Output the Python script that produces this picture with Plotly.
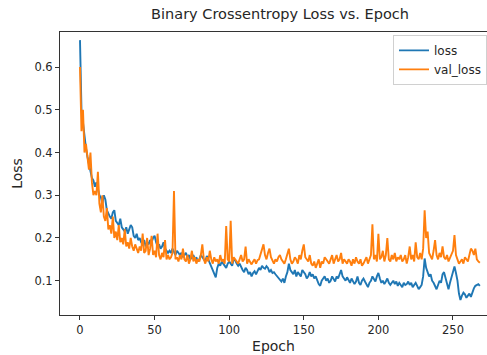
import plotly.graph_objects as go

loss = [
    0.663, 0.50, 0.47, 0.43, 0.41, 0.39, 0.37, 0.36, 0.34, 0.335,
    0.32, 0.33, 0.31, 0.30, 0.295, 0.28, 0.30, 0.29, 0.265, 0.255,
    0.25, 0.245, 0.26, 0.265, 0.24, 0.235, 0.23, 0.245, 0.225, 0.22,
    0.215, 0.225, 0.21, 0.22, 0.23, 0.225, 0.205, 0.20, 0.21, 0.195,
    0.20, 0.19, 0.185, 0.195, 0.18, 0.19, 0.185, 0.195, 0.19, 0.20,
    0.205, 0.19, 0.18, 0.185, 0.175, 0.18, 0.19, 0.175, 0.17, 0.165,
    0.17, 0.165, 0.175, 0.165, 0.16, 0.17, 0.165, 0.16, 0.165, 0.155,
    0.16, 0.165, 0.155, 0.16, 0.15, 0.155, 0.16, 0.15, 0.155, 0.145,
    0.15, 0.16, 0.155, 0.15, 0.145, 0.158, 0.15, 0.14, 0.13, 0.125,
    0.115, 0.108, 0.13, 0.14, 0.135, 0.145, 0.14, 0.135, 0.13, 0.14,
    0.145, 0.14, 0.135, 0.15, 0.148, 0.14, 0.135, 0.14, 0.13, 0.125,
    0.12, 0.13, 0.125, 0.115, 0.12, 0.11, 0.118, 0.122, 0.115, 0.125,
    0.13, 0.125, 0.135, 0.13, 0.128, 0.134, 0.13, 0.12, 0.125, 0.118,
    0.12, 0.115, 0.11, 0.105, 0.10, 0.098, 0.105, 0.095, 0.11, 0.12,
    0.14, 0.125, 0.12, 0.115, 0.125, 0.11, 0.12, 0.115, 0.11, 0.125,
    0.12, 0.115, 0.105, 0.11, 0.12, 0.11, 0.115, 0.105, 0.11, 0.10,
    0.092, 0.088, 0.10, 0.105, 0.11, 0.10, 0.105, 0.095, 0.10, 0.11,
    0.105, 0.098, 0.11, 0.105, 0.115, 0.125, 0.11, 0.105, 0.10, 0.108,
    0.10, 0.095, 0.105, 0.10, 0.092, 0.098, 0.11, 0.095, 0.09, 0.10,
    0.105, 0.098, 0.09, 0.085, 0.095, 0.10, 0.11, 0.105, 0.098, 0.11,
    0.118, 0.105, 0.095, 0.10, 0.092, 0.098, 0.105, 0.095, 0.09, 0.095,
    0.10, 0.092, 0.098, 0.088, 0.095, 0.09, 0.085, 0.095, 0.09, 0.092,
    0.098, 0.09, 0.095, 0.085, 0.09, 0.095, 0.088, 0.08, 0.085, 0.09,
    0.11, 0.152, 0.13, 0.12, 0.11, 0.115, 0.10, 0.095, 0.085, 0.08,
    0.09, 0.10, 0.095, 0.115, 0.12, 0.105, 0.09, 0.08, 0.095, 0.11,
    0.125, 0.133, 0.118, 0.10, 0.07, 0.055, 0.065, 0.072, 0.068, 0.06,
    0.065, 0.07, 0.062, 0.075, 0.082, 0.088, 0.09, 0.092, 0.088,
]

val_loss = [
    0.60, 0.45, 0.50, 0.40, 0.42, 0.38, 0.36, 0.40, 0.33, 0.30,
    0.31, 0.30, 0.355, 0.28, 0.26, 0.30, 0.25, 0.24, 0.27, 0.22,
    0.23, 0.21, 0.25, 0.20, 0.215, 0.195, 0.23, 0.19, 0.20, 0.185,
    0.22, 0.18, 0.19, 0.175, 0.20, 0.18, 0.17, 0.185, 0.175, 0.165,
    0.18, 0.17, 0.21, 0.165, 0.17, 0.20, 0.16, 0.175, 0.205, 0.16,
    0.17, 0.155, 0.21, 0.16, 0.15, 0.165, 0.155, 0.195, 0.15, 0.16,
    0.15, 0.155, 0.165, 0.31, 0.15, 0.155, 0.145, 0.16, 0.15, 0.175,
    0.15, 0.145, 0.16, 0.14, 0.15, 0.17, 0.145, 0.155, 0.14, 0.15,
    0.145, 0.16, 0.185, 0.15, 0.14, 0.155, 0.145, 0.17, 0.15, 0.14,
    0.155, 0.145, 0.15, 0.14, 0.16, 0.145, 0.15, 0.14, 0.228, 0.15,
    0.145, 0.24, 0.14, 0.155, 0.15, 0.145, 0.14, 0.15, 0.16, 0.145,
    0.15, 0.18, 0.14, 0.15, 0.145, 0.138, 0.145, 0.15, 0.14, 0.148,
    0.15, 0.16, 0.17, 0.185, 0.16, 0.15, 0.165, 0.175, 0.155, 0.145,
    0.14, 0.15, 0.145, 0.155, 0.16, 0.15, 0.145, 0.14, 0.15, 0.16,
    0.175, 0.15, 0.14, 0.145, 0.155, 0.15, 0.14, 0.16, 0.15, 0.17,
    0.185, 0.155, 0.15, 0.145, 0.16, 0.14, 0.135, 0.145, 0.13, 0.14,
    0.15, 0.13, 0.145, 0.14, 0.155, 0.15, 0.145, 0.14, 0.15, 0.16,
    0.14, 0.15, 0.16, 0.145, 0.15, 0.165, 0.14, 0.15, 0.145, 0.14,
    0.15, 0.145, 0.135, 0.15, 0.14, 0.155, 0.145, 0.14, 0.15, 0.135,
    0.14, 0.15, 0.155, 0.14, 0.15, 0.16, 0.232, 0.15, 0.16, 0.145,
    0.21, 0.15, 0.155, 0.17, 0.145, 0.16, 0.20, 0.15, 0.145, 0.16,
    0.15, 0.165, 0.145, 0.155, 0.15, 0.16, 0.145, 0.15, 0.16, 0.14,
    0.155, 0.18, 0.15, 0.16, 0.145, 0.19, 0.155, 0.15, 0.165, 0.15,
    0.175, 0.265, 0.20, 0.215, 0.165, 0.155, 0.15, 0.17, 0.195, 0.16,
    0.15, 0.165, 0.155, 0.18, 0.155, 0.15, 0.16, 0.145, 0.155, 0.165,
    0.17, 0.207, 0.16, 0.15, 0.14, 0.145, 0.15, 0.14, 0.155, 0.15,
    0.145, 0.16, 0.175, 0.17, 0.16, 0.175, 0.15, 0.145, 0.142,
]

epochs = list(range(len(loss)))
x_ticks = [0, 50, 100, 150, 200, 250]
y_ticks = [0.1, 0.2, 0.3, 0.4, 0.5, 0.6]
y_tick_labels = ["0.1", "0.2", "0.3", "0.4", "0.5", "0.6"]

FONT = "DejaVu Sans, Liberation Sans, sans-serif"

fig = go.Figure()
fig.add_trace(go.Scatter(x=epochs, y=loss, mode="lines", name="loss",
                         line=dict(color="#1f77b4", width=1.9)))
fig.add_trace(go.Scatter(x=epochs, y=val_loss, mode="lines", name="val_loss",
                         line=dict(color="#ff7f0e", width=1.9)))

fig.update_layout(
    width=487, height=355,
    margin=dict(l=60, r=0, t=32, b=40),
    paper_bgcolor="white", plot_bgcolor="white",
    font=dict(family=FONT, size=11.5, color="#262626"),
    title=dict(text="Binary Crossentropy Loss vs. Epoch", x=0.575, xanchor="center",
               y=1 - 14 / 355, yanchor="middle", yref="container",
               font=dict(size=14.5, color="#262626")),
    legend=dict(x=0.78, y=0.99, xanchor="left", yanchor="top",
                bgcolor="rgba(255,255,255,0.85)", bordercolor="#d0d0d0", borderwidth=1,
                font=dict(size=12), itemwidth=30, tracegroupgap=0),
    showlegend=True,
)
fig.update_xaxes(range=[-13.4, 272.8], tickvals=x_ticks, ticks="outside", ticklen=4,
                 tickcolor="#333", showline=True, linecolor="#333", linewidth=1,
                 mirror=True, showgrid=False, zeroline=False,
                 title=dict(text="Epoch", standoff=5), automargin=False)
fig.update_yaxes(range=[0.0197, 0.682], tickvals=y_ticks, ticktext=y_tick_labels,
                 ticks="outside", ticklen=4, tickcolor="#333", showline=True,
                 linecolor="#333", linewidth=1, mirror=True, showgrid=False,
                 zeroline=False, title=dict(text="Loss", standoff=8), automargin=False)

fig.write_html("out.html")
